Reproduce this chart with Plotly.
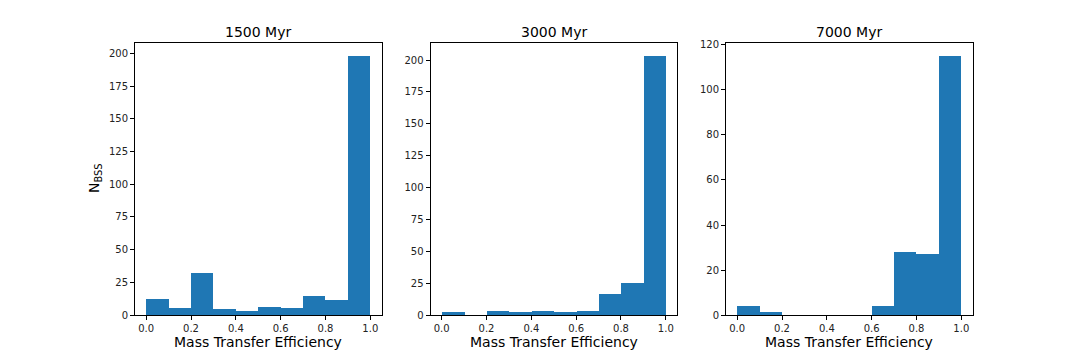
import plotly.graph_objects as go

# histogram bins (left edges) and counts per panel
bin_left = [0.0, 0.1, 0.2, 0.3, 0.4, 0.5, 0.6, 0.7, 0.8, 0.9]
bin_width = 0.1

ages = ["1500 Myr", "3000 Myr", "7000 Myr"]
counts_1500 = [12, 5, 32, 4, 3, 6, 5, 14, 11, 198]
counts_3000 = [2, 0, 3, 2, 3, 2, 3, 16, 25, 203]
counts_7000 = [4, 1, 0, 0, 0, 0, 4, 28, 27, 115]

y_ticks = [
    [0, 25, 50, 75, 100, 125, 150, 175, 200],
    [0, 25, 50, 75, 100, 125, 150, 175, 200],
    [0, 20, 40, 60, 80, 100, 120],
]
x_ticks = [0.0, 0.2, 0.4, 0.6, 0.8, 1.0]

W, H = 1080, 360
x_domains = [(135, 381.5), (430.5, 677), (726, 972.5)]
y_domain = [45 / H, (H - 43.3) / H]


def main():
    fig = go.Figure()
    all_counts = [counts_1500, counts_3000, counts_7000]

    for i, counts in enumerate(all_counts):
        n = "" if i == 0 else str(i + 1)
        fig.add_trace(
            go.Bar(
                x=bin_left,
                y=counts,
                width=bin_width,
                offset=0,
                marker=dict(color="#1f77b4", line=dict(width=0)),
                xaxis="x" + n,
                yaxis="y" + n,
                showlegend=False,
                hoverinfo="x+y",
            )
        )

        ymax = max(counts) * 1.05
        axis_style = dict(
            showline=True,
            linecolor="black",
            linewidth=1,
            mirror=True,
            ticks="outside",
            ticklen=4,
            tickwidth=1,
            tickcolor="black",
            showgrid=False,
            zeroline=False,
            automargin=False,
            tickfont=dict(size=10, color="#222"),
        )
        x0, x1 = x_domains[i]
        fig.update_layout(
            {
                "xaxis" + n: dict(
                    domain=[x0 / W, x1 / W],
                    range=[-0.05, 1.05],
                    tickvals=x_ticks,
                    tickformat=".1f",
                    anchor="y" + n,
                    **axis_style,
                ),
                "yaxis" + n: dict(
                    domain=y_domain,
                    range=[0, ymax],
                    tickvals=y_ticks[i],
                    anchor="x" + n,
                    **axis_style,
                ),
            }
        )

        cx = (x0 + x1) / 2 / W
        fig.add_annotation(
            text=ages[i], x=cx, y=1 - 32 / H, xref="paper", yref="paper",
            showarrow=False, font=dict(size=14, color="black"),
            xanchor="center", yanchor="middle",
        )
        fig.add_annotation(
            text="Mass Transfer Efficiency", x=cx, y=1 - 342 / H,
            xref="paper", yref="paper", showarrow=False,
            font=dict(size=14, color="black"),
            xanchor="center", yanchor="middle",
        )

    fig.add_annotation(
        text="N<sub>BSS</sub>", x=95 / W, y=1 - 179 / H,
        xref="paper", yref="paper", showarrow=False, textangle=-90,
        font=dict(size=14, color="black"),
        xanchor="center", yanchor="middle",
    )

    fig.update_layout(
        width=W,
        height=H,
        margin=dict(l=0, r=0, t=0, b=0),
        paper_bgcolor="white",
        plot_bgcolor="white",
        font=dict(family="DejaVu Sans", color="black"),
        bargap=0,
    )

    fig.write_html(
        "out.html",
        post_script="document.body.style.margin='0px';",
        config={"displayModeBar": False},
    )


if __name__ == "__main__":
    main()
